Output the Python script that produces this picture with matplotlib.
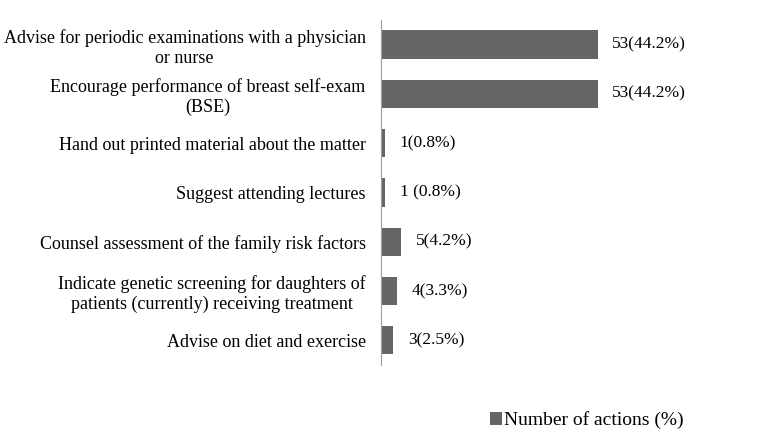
import matplotlib.pyplot as plt

actions = [
    "Advise for periodic examinations with a physician\nor nurse",
    "Encourage performance of breast self-exam\n(BSE)",
    "Hand out printed material about the matter",
    "Suggest attending lectures",
    "Counsel assessment of the family risk factors",
    "Indicate genetic screening for daughters of\npatients (currently) receiving treatment",
    "Advise on diet and exercise",
]
counts = [53, 53, 1, 1, 5, 4, 3]
value_labels = ["53(44.2%)", "53(44.2%)", "1(0.8%)", "1 (0.8%)", "5(4.2%)", "4(3.3%)", "3(2.5%)"]

plt.rcParams["font.family"] = ["Liberation Serif", "DejaVu Serif"]

fig = plt.figure(figsize=(7.79, 4.32), dpi=100)
ax = fig.add_axes([0.489, 0.155, 0.315, 0.799])

pos = list(range(len(actions)))
bars = ax.barh(pos, counts, height=0.57, color="#666666", label="Number of actions (%)")
ax.set_ylim(len(actions) - 0.5, -0.5)
ax.set_xlim(0, 60)

for b, txt in zip(bars, value_labels):
    ax.annotate(txt, (b.get_width(), b.get_y() + b.get_height() / 2),
                xytext=(10.5, 0), textcoords="offset points",
                va="center", ha="left", fontsize=12.5)

ax.set_yticks(pos)
ax.set_yticklabels(actions, fontsize=13, ha="right", multialignment="center",
                   linespacing=1.2)
ax.tick_params(axis="y", length=0, pad=11)
ax.set_xticks([])
for s in ["top", "right", "bottom"]:
    ax.spines[s].set_visible(False)
ax.spines["left"].set_color("#a0a0a0")

fig.legend(loc="center", bbox_to_anchor=(0.753, 0.027), frameon=False,
           fontsize=14, handlelength=0.6, handleheight=0.6, handletextpad=0.1,
           borderpad=0.1)

fig.savefig("out.png", dpi=100)
